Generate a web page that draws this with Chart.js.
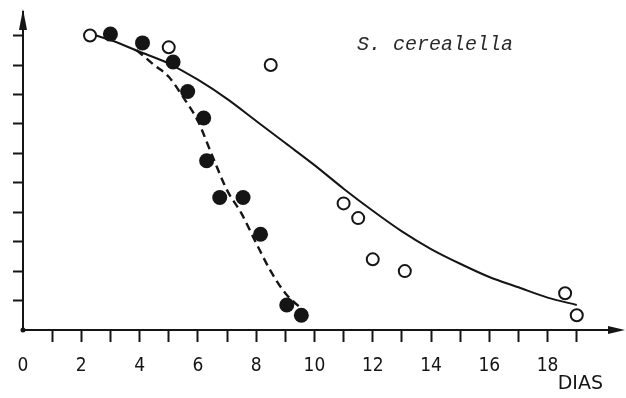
<!DOCTYPE html>
<html>
<head>
<meta charset="utf-8">
<script src="https://cdn.jsdelivr.net/npm/chart.js@4/dist/chart.umd.min.js"></script>
<style>
  html, body { margin: 0; padding: 0; background: #fff; }
  #grafico { display: block; }
</style>
</head>
<body>
<canvas id="grafico" width="626" height="398"></canvas>
<script>
// dados (dias x sobrevivência, escala 0-10)
const abertosX = [2.3, 5.0, 8.5, 11.0, 11.5, 12.0, 13.1, 18.6, 19.0];
const abertosY = [10.0, 9.6, 9.0, 4.3, 3.8, 2.4, 2.0, 1.25, 0.5];

const cheiosX = [3.0, 4.1, 5.15, 5.65, 6.2, 6.3, 6.75, 7.55, 8.15, 9.05, 9.55];
const cheiosY = [10.05, 9.75, 9.1, 8.1, 7.2, 5.75, 4.5, 4.5, 3.25, 0.85, 0.5];

// curva contínua (ajuste dos círculos abertos)
const curvaX = [2.5, 3, 4, 5, 6, 7, 8, 9, 10, 11, 12, 13, 14, 15, 16, 17, 18, 19];
const curvaY = [10.0, 9.85, 9.45, 9.05, 8.5, 7.85, 7.1, 6.35, 5.6, 4.8, 4.05, 3.35, 2.75, 2.25, 1.8, 1.45, 1.1, 0.85];

// curva tracejada (ajuste dos círculos cheios)
const tracoX = [3.9, 4.5, 5, 5.5, 6, 6.5, 7, 7.5, 8, 8.5, 9, 9.7];
const tracoY = [9.5, 9.0, 8.6, 7.9, 7.1, 5.9, 4.75, 3.95, 2.95, 2.0, 1.25, 0.6];

const rotulosX = [0, 2, 4, 6, 8, 10, 12, 14, 16, 18];

const tinta = '#151515';

function pares(xs, ys) {
  return xs.map((x, i) => ({ x: x, y: ys[i] }));
}

// setas dos eixos, título da espécie e ponto de origem
const extras = {
  id: 'extras',
  afterDraw(chart) {
    const c = chart.ctx;
    const area = chart.chartArea;
    c.save();
    c.fillStyle = tinta;
    c.strokeStyle = tinta;
    c.lineWidth = 2;

    // eixo X prolongado + seta
    c.beginPath();
    c.moveTo(area.right, area.bottom);
    c.lineTo(612, area.bottom);
    c.stroke();
    c.beginPath();
    c.moveTo(625, area.bottom);
    c.lineTo(608, area.bottom - 4);
    c.lineTo(608, area.bottom + 4);
    c.closePath();
    c.fill();

    // seta do eixo Y
    c.beginPath();
    c.moveTo(area.left, 9);
    c.lineTo(area.left - 4, 30);
    c.lineTo(area.left + 4, 30);
    c.closePath();
    c.fill();

    // origem
    c.beginPath();
    c.arc(area.left, area.bottom, 2.5, 0, Math.PI * 2);
    c.fill();

    c.font = 'italic 20px "Liberation Mono", "DejaVu Sans Mono", monospace';
    c.textBaseline = 'alphabetic';
    c.textAlign = 'left';
    c.fillStyle = '#2a2a2a';
    c.fillText('S. cerealella', 357, 50);
    c.restore();
  }
};

new Chart(document.getElementById('grafico'), {
  type: 'scatter',
  data: {
    datasets: [
      {
        label: 'curva',
        data: pares(curvaX, curvaY),
        showLine: true,
        cubicInterpolationMode: 'monotone',
        borderColor: tinta,
        borderWidth: 2,
        pointRadius: 0
      },
      {
        label: 'tracejada',
        data: pares(tracoX, tracoY),
        showLine: true,
        cubicInterpolationMode: 'monotone',
        borderColor: tinta,
        borderWidth: 2.4,
        borderDash: [8, 5],
        pointRadius: 0
      },
      {
        label: 'cheios',
        data: pares(cheiosX, cheiosY),
        pointRadius: 7.5,
        pointBackgroundColor: tinta,
        pointBorderColor: tinta,
        pointBorderWidth: 0
      },
      {
        label: 'abertos',
        data: pares(abertosX, abertosY),
        pointRadius: 6,
        pointBackgroundColor: '#fff',
        pointBorderColor: tinta,
        pointBorderWidth: 2
      }
    ]
  },
  options: {
    responsive: false,
    animation: false,
    clip: false,
    layout: { padding: { top: 12, right: 23, left: 0, bottom: 0 } },
    plugins: {
      legend: { display: false },
      tooltip: { enabled: false }
    },
    scales: {
      x: {
        type: 'linear',
        min: 0,
        max: 19.9,
        afterFit: function (scale) { scale.height = 68; },
        afterBuildTicks: function (scale) {
          scale.ticks = [];
          for (let v = 0; v <= 19; v++) scale.ticks.push({ value: v });
        },
        border: { display: true, color: tinta, width: 2 },
        grid: {
          drawOnChartArea: false,
          tickLength: 12,
          tickWidth: 2,
          tickColor: ctx => (ctx.tick && ctx.tick.value > 0 ? tinta : 'rgba(0,0,0,0)')
        },
        ticks: {
          color: tinta,
          padding: 13,
          maxRotation: 0,
          autoSkip: false,
          font: { family: '"DejaVu Sans Condensed", "DejaVu Sans", sans-serif', size: 19 },
          callback: function (value) {
            return rotulosX.includes(value) ? String(value) : '';
          }
        },
        title: {
          display: true,
          text: 'DIAS',
          align: 'end',
          color: tinta,
          padding: { top: 0, bottom: 3 },
          font: { family: '"DejaVu Sans", sans-serif', size: 19 }
        }
      },
      y: {
        type: 'linear',
        min: 0,
        max: 10.8,
        afterFit: function (scale) { scale.width = 23; },
        afterBuildTicks: function (scale) {
          scale.ticks = [];
          for (let v = 0; v <= 10; v++) scale.ticks.push({ value: v });
        },
        border: { display: true, color: tinta, width: 2 },
        grid: {
          drawOnChartArea: false,
          tickLength: 10,
          tickWidth: 2,
          tickColor: ctx => (ctx.tick && ctx.tick.value > 0 ? tinta : 'rgba(0,0,0,0)')
        },
        ticks: { display: false }
      }
    }
  },
  plugins: [extras]
});
</script>
</body>
</html>
